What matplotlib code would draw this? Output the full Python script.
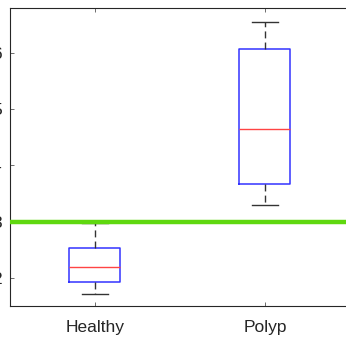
import matplotlib
matplotlib.use("Agg")
import matplotlib.pyplot as plt

categories = ["Healthy", "Polyp"]
lower_whisker = [1.726, 3.301]
q1 = [1.933, 3.673]
median = [2.209, 4.641]
q3 = [2.545, 6.062]
upper_whisker = [2.977, 6.545]
threshold = 3.0
yticks = [2, 3, 4, 5, 6]

plt.rcParams['font.family'] = ['Liberation Sans', 'DejaVu Sans']

W, H = 346, 340
fig = plt.figure(figsize=(W / 100, H / 100), dpi=100)
ax = fig.add_axes([10 / W, 1 - 306 / H, 340 / W, 298 / H])

stats = []
for i, c in enumerate(categories):
    stats.append(dict(label=c, whislo=lower_whisker[i], q1=q1[i], med=median[i],
                      q3=q3[i], whishi=upper_whisker[i], fliers=[]))

ax.bxp(stats, positions=[1, 2], widths=0.3, showfliers=False,
       boxprops=dict(color='#3333ff', linewidth=1.1),
       medianprops=dict(color='#ff4444', linewidth=1.0),
       whiskerprops=dict(color='#333333', linewidth=1.0, linestyle=(0, (5, 3))),
       capprops=dict(color='#333333', linewidth=1.0),
       capwidths=0.15)

ax.axhline(threshold, color='#5fd80f', linewidth=3.2, zorder=5)

ax.set_xlim(0.5, 2.5)
ax.set_ylim(1.51, 6.79)
ax.set_yticks(yticks)
ax.set_yticklabels([str(t) for t in yticks])
ax.set_xticks([1, 2])
ax.set_xticklabels(categories)
ax.tick_params(direction='in', length=3, width=0.6, color='#555555',
               top=True, right=True, labelsize=12.5, labelcolor='#262626')
ax.tick_params(axis='y', pad=6)
ax.tick_params(axis='x', pad=10)
for s in ax.spines.values():
    s.set_color('#262626')
    s.set_linewidth(0.8)

fig.savefig("out.png", dpi=100)
